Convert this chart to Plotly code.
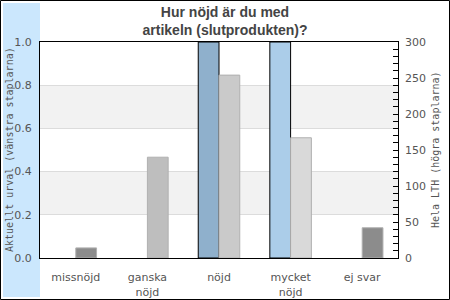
import plotly.graph_objects as go

categories = ["missnöjd", "ganska<br>nöjd", "nöjd", "mycket<br>nöjd", "ej svar"]
urval_values = [0, 0, 1.0, 1.0, 0]
lth_values = [14, 140, 254, 167, 42]
urval_colors = ["#8fb0cc", "#8fb0cc", "#8fb0cc", "#abcde9", "#8fb0cc"]
lth_colors = ["#8c8c8c", "#bebebe", "#cacaca", "#d9d9d9", "#8c8c8c"]
left_ticks = [0.0, 0.2, 0.4, 0.6, 0.8, 1.0]
right_ticks = [0, 50, 100, 150, 200, 250, 300]

W, H = 450, 300
L, R, T, B = 40, 52, 42, 42
pw, ph = W - L - R, H - T - B

def px(x):
    return (x - L) / pw

def py(y):
    return (H - B - y) / ph

fig = go.Figure()
fig.add_trace(go.Bar(
    x=categories, y=urval_values, yaxis="y", width=0.29, offset=-0.29,
    marker=dict(color=urval_colors,
                line=dict(color="#000000", width=[1 if v > 0 else 0 for v in urval_values])),
    showlegend=False, hoverinfo="skip"))
fig.add_trace(go.Bar(
    x=categories, y=lth_values, yaxis="y2", width=0.29, offset=0.0,
    marker=dict(color=lth_colors,
                line=dict(color="#b0b0b0", width=[1 if v > 0 else 0 for v in lth_values])),
    showlegend=False, hoverinfo="skip"))

shapes = [
    dict(type="rect", xref="paper", yref="paper", x0=px(3), x1=px(40), y0=py(297), y1=py(3),
         fillcolor="#cbe7fd", line=dict(width=0), layer="below"),
    dict(type="rect", xref="paper", yref="y", x0=0, x1=1, y0=0.2, y1=0.4,
         fillcolor="#f2f2f2", line=dict(width=0), layer="below"),
    dict(type="rect", xref="paper", yref="y", x0=0, x1=1, y0=0.6, y1=0.8,
         fillcolor="#f2f2f2", line=dict(width=0), layer="below"),
    dict(type="rect", xref="paper", yref="paper", x0=px(0.5), x1=px(449.5), y0=py(299.5), y1=py(0.5),
         fillcolor="rgba(0,0,0,0)", line=dict(color="#000000", width=1), layer="above"),
]

fig.update_layout(
    width=W, height=H,
    margin=dict(l=L, r=R, t=T, b=B, autoexpand=False),
    paper_bgcolor="#ffffff", plot_bgcolor="rgba(0,0,0,0)",
    barmode="overlay",
    font=dict(family="DejaVu Sans", size=11, color="#555555"),
    title=dict(text="Hur nöjd är du med<br>artikeln (slutprodukten)?",
               x=0.5, xref="container", xanchor="center",
               y=1 - 17 / H, yref="container", yanchor="middle",
               font=dict(family="Liberation Sans", size=14, color="#444444", weight="bold")),
    xaxis=dict(showline=True, linecolor="#000000", linewidth=1, mirror=True, automargin=False,
               showgrid=False, ticks="outside", ticklen=9, tickcolor="rgba(0,0,0,0)",
               tickfont=dict(size=11, color="#555555"), fixedrange=True),
    yaxis=dict(range=[0, 1], tickvals=left_ticks, tickformat=".1f", automargin=False,
               showline=True, linecolor="#000000", linewidth=1, mirror=True,
               showgrid=True, gridcolor="#dcdcdc", gridwidth=1, zeroline=False,
               ticks="outside", ticklen=5, tickcolor="rgba(0,0,0,0)",
               tickfont=dict(size=11, color="#555555"), fixedrange=True),
    yaxis2=dict(range=[0, 300], tickvals=right_ticks, overlaying="y", side="right",
                showgrid=False, zeroline=False, showline=False, automargin=False,
                ticks="inside", ticklen=5, tickcolor="#000000", tickwidth=1,
                minor=dict(dtick=10, ticks="inside", ticklen=5, tickcolor="#000000", tickwidth=1),
                ticklabelstandoff=6,
                tickfont=dict(size=11, color="#555555"), fixedrange=True),
    shapes=shapes,
    annotations=[
        dict(text="Aktuellt urval (vänstra staplarna)", xref="paper", yref="paper",
             x=px(9), y=0.5, textangle=-90, showarrow=False, xanchor="center", yanchor="middle",
             font=dict(family="DejaVu Sans Mono", size=10, color="#555555")),
        dict(text="Hela LTH (högra staplarna)", xref="paper", yref="paper",
             x=px(435), y=0.5, textangle=-90, showarrow=False, xanchor="center", yanchor="middle",
             font=dict(family="DejaVu Sans Mono", size=10, color="#555555")),
    ],
)

fig.write_html("out.html")
